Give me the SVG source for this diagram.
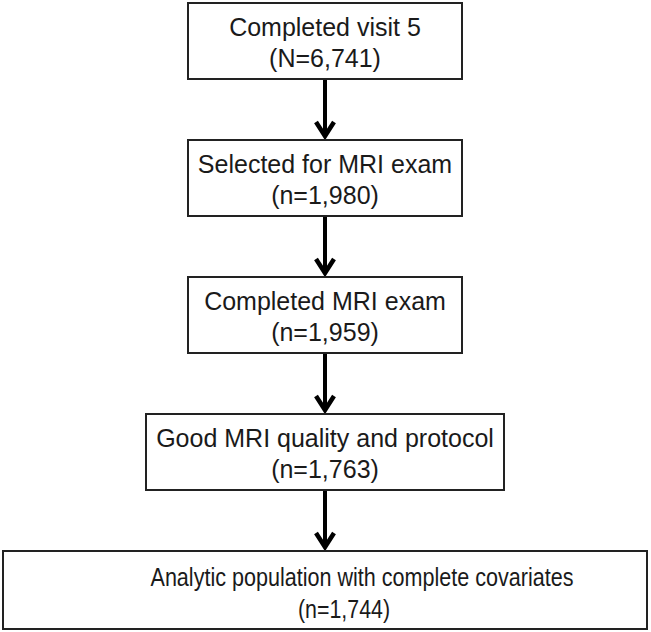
<svg xmlns="http://www.w3.org/2000/svg" width="651" height="632" viewBox="0 0 651 632">
<style>
.box{fill:#fff;stroke:#222;stroke-width:2}
.t{font-family:"Liberation Sans",Arial,sans-serif;font-size:25px;fill:#1a1a1a;text-anchor:middle}
.c{stroke:#000;stroke-width:4;fill:none}
.h{stroke:#000;stroke-width:4.5;fill:none;stroke-linecap:butt;stroke-linejoin:miter}
</style>
<rect width="651" height="632" fill="#fff"/>
<g id="connectors">
<line class="c" x1="325" y1="79" x2="325" y2="137"/>
<polyline class="h" points="316,122 325,136 334,122"/>
<line class="c" x1="325" y1="216" x2="325" y2="274"/>
<polyline class="h" points="316,259 325,273 334,259"/>
<line class="c" x1="325" y1="353" x2="325" y2="411"/>
<polyline class="h" points="316,396 325,410 334,396"/>
<line class="c" x1="325" y1="490" x2="325" y2="548"/>
<polyline class="h" points="316,533 325,547 334,533"/>
</g>
<g id="n1">
<rect class="box" x="188" y="3" width="274" height="76"/>
<text class="t" x="325" y="36">Completed visit 5</text>
<text class="t" x="325" y="67">(N=6,741)</text>
</g>
<g id="n2">
<rect class="box" x="188" y="140" width="274" height="76"/>
<text class="t" x="325" y="173">Selected for MRI exam</text>
<text class="t" x="325" y="204">(n=1,980)</text>
</g>
<g id="n3">
<rect class="box" x="188" y="277" width="274" height="76"/>
<text class="t" x="325" y="310">Completed MRI exam</text>
<text class="t" x="325" y="341">(n=1,959)</text>
</g>
<g id="n4">
<rect class="box" x="146" y="414" width="358" height="76"/>
<text class="t" x="325" y="447">Good MRI quality and protocol</text>
<text class="t" x="325" y="478">(n=1,763)</text>
</g>
<g id="n5">
<rect class="box" x="3" y="551" width="644" height="78"/>
<text class="t" x="362" y="586" textLength="423" lengthAdjust="spacingAndGlyphs">Analytic population with complete covariates</text>
<text class="t" x="344" y="618" textLength="92" lengthAdjust="spacingAndGlyphs">(n=1,744)</text>
</g>
</svg>
